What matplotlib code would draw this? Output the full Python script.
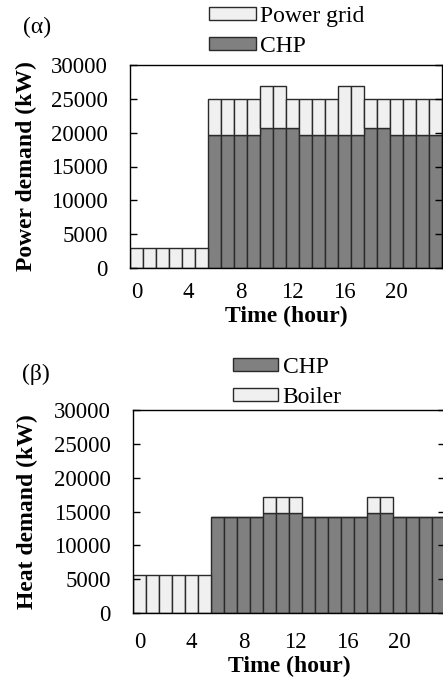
import numpy as np
import matplotlib
matplotlib.use('Agg')
import matplotlib.pyplot as plt

plt.rcParams['font.family'] = ['Liberation Serif', 'DejaVu Serif']

hours = np.arange(24)
xticks = [0, 4, 8, 12, 16, 20]

# power side (kW)
power_chp = [0, 0, 0, 0, 0, 0,
             19600, 19600, 19600, 19600, 20700, 20700, 20700,
             19600, 19600, 19600, 19600, 19600, 20700, 20700,
             19600, 19600, 19600, 19600]
power_grid = [3000, 3000, 3000, 3000, 3000, 3000,
              5400, 5400, 5400, 5400, 6200, 6200, 4300,
              5400, 5400, 5400, 7300, 7300, 4300, 4300,
              5400, 5400, 5400, 5400]

# heat side (kW)
heat_chp = [0, 0, 0, 0, 0, 0,
            14200, 14200, 14200, 14200, 14800, 14800, 14800,
            14200, 14200, 14200, 14200, 14200, 14800, 14800,
            14200, 14200, 14200, 14200]
heat_boiler = [5650, 5650, 5650, 5650, 5650, 5650,
               0, 0, 0, 0, 2300, 2300, 2300,
               0, 0, 0, 0, 0, 2300, 2300,
               0, 0, 0, 0]

light = '#f0f0f0'
dark = '#808080'
edge = '#2a2a2a'
W, H = 443, 678

fig = plt.figure(figsize=(W / 100, H / 100), dpi=100)
ax1 = fig.add_axes([130 / W, 1 - 268 / H, 312 / W, 203 / H])
ax2 = fig.add_axes([133 / W, 1 - 613 / H, 312 / W, 203 / H])

b_chp = ax1.bar(hours, power_chp, width=1.0, color=dark, edgecolor=edge, linewidth=1, label='CHP')
b_grid = ax1.bar(hours, power_grid, width=1.0, bottom=power_chp, color=light, edgecolor=edge,
                 linewidth=1, label='Power grid')

h_chp = ax2.bar(hours, heat_chp, width=1.0, color=dark, edgecolor=edge, linewidth=1, label='CHP')
h_boil = ax2.bar(hours, heat_boiler, width=1.0, bottom=heat_chp, color=light, edgecolor=edge,
                 linewidth=1, label='Boiler')

for ax, ylab, xpad, lx in [(ax1, 'Power demand (kW)', 10, -0.298),
                           (ax2, 'Heat demand (kW)', 14, -0.305)]:
    ax.set_xlim(-0.5, 23.5)
    ax.set_ylim(0, 30000)
    ax.set_yticks(np.arange(0, 30001, 5000))
    ax.set_xticks(xticks)
    ax.tick_params(axis='y', direction='in', length=5, width=1, right=True, labelsize=16.5, pad=16)
    ax.tick_params(axis='x', length=0, labelsize=16.5, pad=xpad)
    ax.set_xlabel('Time (hour)', fontsize=17, fontweight='bold', labelpad=2)
    ax.set_ylabel(ylab, fontsize=17, fontweight='bold')
    ax.yaxis.set_label_coords(lx, 0.5)
    for s in ax.spines.values():
        s.set_linewidth(1)
        s.set_color('black')

fig.legend([b_grid, b_chp], ['Power grid', 'CHP'], loc='upper left',
           bbox_to_anchor=(209 / W, 1 - 6 / H), frameon=False, fontsize=17,
           handlelength=2.0, handleheight=0.5, handletextpad=0.15, labelspacing=0.38,
           borderpad=0, borderaxespad=0)
fig.legend([h_chp, h_boil], ['CHP', 'Boiler'], loc='upper left',
           bbox_to_anchor=(233 / W, 1 - 357 / H), frameon=False, fontsize=17,
           handlelength=1.9, handleheight=0.5, handletextpad=0.2, labelspacing=0.38,
           borderpad=0, borderaxespad=0)

fig.text(37 / W, 1 - 27 / H, '(α)', fontsize=17, ha='center', va='center')
fig.text(36 / W, 1 - 374 / H, '(β)', fontsize=17, ha='center', va='center')

fig.savefig('out.png', dpi=100)
